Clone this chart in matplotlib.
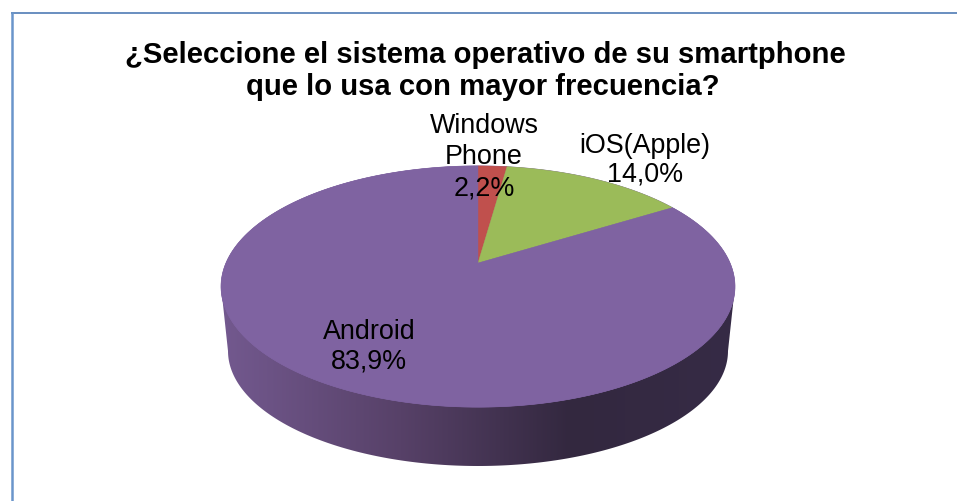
import numpy as np
import matplotlib
matplotlib.use('Agg')
import matplotlib.pyplot as plt
from matplotlib.colors import LinearSegmentedColormap
from matplotlib.patches import Polygon

# datos del grafico
title_lines = ['¿Seleccione el sistema operativo de su smartphone', 'que lo usa con mayor frecuencia?']
categories = ['Windows\nPhone', 'iOS(Apple)', 'Android']
values = [2.2, 14.0, 83.9]
colors = ['#C0504D', '#9BBB59', '#7F63A1']

plt.rcParams['font.family'] = ['Liberation Sans', 'DejaVu Sans']

fig = plt.figure(figsize=(9.57, 5.02), dpi=100)
ax = fig.add_axes([0, 0, 1, 1])
ax.set_xlim(0, 957)
ax.set_ylim(502, 0)
ax.axis('off')

# centro del pastel en pixeles y proyeccion en perspectiva
cx, cy = 478, 264
a, b, k = 252, 116, 0.195


def project(theta):
    # theta en radianes, sentido horario desde arriba
    X, Y = np.sin(theta), np.cos(theta)
    d = 1 + k * Y
    return cx + a * X / d, cy - b * Y / d


# pared lateral con degradado
t = np.linspace(0, 2 * np.pi, 361)
top_x, top_y = project(t)
low_cx, low_cy, low_rx, low_ry = 478, 352, 250, 115
s = np.linspace(np.pi, 0, 181)
low_x = low_cx + low_rx * np.cos(s)
low_y = low_cy + low_ry * np.sin(s)
wall = np.vstack([
    [[221, 287]],
    np.column_stack([low_x, low_y]),
    [[735, 287]],
])
cmap = LinearSegmentedColormap.from_list('pared', [
    (0.0, '#73598f'), (0.35, '#574168'), (0.68, '#33283f'), (1.0, '#362b46')])
grad = ax.imshow(np.linspace(0, 1, 256).reshape(1, -1), extent=[221, 735, 480, 280],
                 cmap=cmap, aspect='auto', zorder=1, interpolation='bilinear')
patch = Polygon(wall, closed=True, transform=ax.transData, facecolor='none', edgecolor='none')
ax.add_patch(patch)
grad.set_clip_path(patch)
ax.set_xlim(0, 957)
ax.set_ylim(502, 0)

# cara superior
ax.fill(top_x, top_y, color=colors[2], lw=0.5, zorder=2)
start = 0.0
for val, col in zip(values, colors):
    end = start + val / sum(values) * 2 * np.pi
    th = np.linspace(start, end, 200)
    x, y = project(th)
    ax.fill(np.r_[cx, x], np.r_[cy, y], color=col, lw=0.3, zorder=3)
    start = end

# etiquetas
label_pos = [(484, 157), (645, 160), (369, 347)]
label_spacing = [1.27, 1.11, 1.19]
for cat, val, (lx, ly), sp in zip(categories, values, label_pos, label_spacing):
    txt = cat + '\n' + f'{val:.1f}'.replace('.', ',') + '%'
    ax.text(lx, ly, txt, ha='center', va='center', fontsize=19.4, color='black',
            linespacing=sp, zorder=5)

# titulo
ax.text(485, 55, title_lines[0], ha='center', va='center', fontsize=21.1, fontweight='bold')
ax.text(483, 87, title_lines[1], ha='center', va='center', fontsize=21.1, fontweight='bold')

# borde
ax.plot([11, 957], [13.5, 13.5], color='#4f7cb5', lw=1.2, zorder=6, solid_capstyle='butt')
ax.plot([11.5, 11.5], [13, 502], color='#6a95cb', lw=1.8, zorder=6, solid_capstyle='butt')

fig.savefig('out.png', dpi=100)
